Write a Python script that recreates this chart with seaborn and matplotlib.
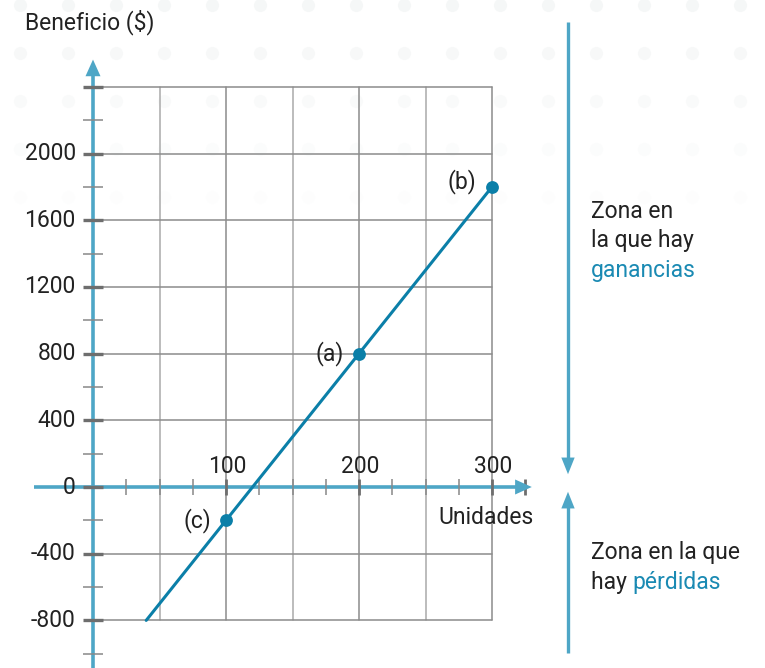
import numpy as np
import pandas as pd
import seaborn as sns
import matplotlib.pyplot as plt

# Datos
puntos_x = [200, 300, 100]
puntos_y = [800, 1800, -200]
puntos_lbl = ['(a)', '(b)', '(c)']
recta_x = [40, 300]
recta_y = [-800, 1800]
yticks_lbl = [2000, 1600, 1200, 800, 400, 0, -400, -800]
xticks_lbl = [100, 200, 300]

df_pts = pd.DataFrame({'Unidades': puntos_x, 'Beneficio': puntos_y, 'lbl': puntos_lbl})
df_line = pd.DataFrame({'Unidades': recta_x, 'Beneficio': recta_y})

sns.set_theme(style="white")
plt.rcParams['font.family'] = ['Roboto', 'DejaVu Sans']

C_AXIS = '#4ea6c6'
C_LINE = '#0b7fa8'
C_GRID = '#8c8c8c'
C_TXT = '#222222'
FS = 16.5

fig = plt.figure(figsize=(7.65, 6.68), dpi=100)
ax = fig.add_axes([0, 0, 1, 1])
# escala: 1.33 px por unidad, 0.16675 px por $
ax.set_xlim(-93 / 1.33, (765 - 93) / 1.33)
ax.set_ylim(-(668 - 487) / 0.16675, 487 / 0.16675)
ax.axis('off')

# fondo de puntos decorativo (muy tenue)
gx, gy = np.meshgrid(np.arange(20, 765, 48), np.arange(5, 260, 48))
alphas = np.clip(1 - gy / 230, 0, 1).ravel()
for px, py, a in zip(gx.ravel(), gy.ravel(), alphas):
    ax.scatter(px / 765, 1 - py / 668, s=90, color='#f5f7f7', alpha=a,
               transform=fig.transFigure, zorder=0, linewidths=0)

# cuadricula
for u in range(50, 301, 50):
    ax.plot([u, u], [-800, 2400], color=C_GRID if u % 100 == 0 else '#aaaaaa', lw=1.1, zorder=1)
for v in range(-800, 2401, 400):
    ax.plot([0, 300], [v, v], color=C_GRID, lw=1.1, zorder=1)

# marcas eje y
for v in range(-1000, 2401, 200):
    major = v % 400 == 0
    ax.plot([-7.5, 7.5], [v, v], color='#6e6e6e' if major else '#888888',
            lw=2.4 if major else 1.1, zorder=3, solid_capstyle='butt')
# marcas eje x
for u in range(25, 326, 25):
    major = u % 100 == 0 or u == 325
    ax.plot([u, u], [-45, 45], color='#6e6e6e' if major else '#888888',
            lw=2.0 if major else 1.1, zorder=3, solid_capstyle='butt')

# ejes con flechas
ax.plot([0, 0], [-1100, 2480], color=C_AXIS, lw=2.6, zorder=2, solid_capstyle='butt')
ax.annotate('', xy=(0, 2580), xytext=(0, 2460),
            arrowprops=dict(arrowstyle='-|>,head_length=1.0,head_width=0.45', color=C_AXIS, lw=0))
ax.plot([-44, 320], [0, 0], color=C_AXIS, lw=2.6, zorder=2, solid_capstyle='butt')
ax.annotate('', xy=(332, 0), xytext=(310, 0),
            arrowprops=dict(arrowstyle='-|>,head_length=1.0,head_width=0.45', color=C_AXIS, lw=0))

# recta y puntos
sns.lineplot(data=df_line, x='Unidades', y='Beneficio', ax=ax, color=C_LINE, lw=2.2, zorder=4)
sns.scatterplot(data=df_pts, x='Unidades', y='Beneficio', ax=ax, color=C_LINE, s=85,
                linewidth=0, zorder=5)
ax.set_xlabel('')
ax.set_ylabel('')
offs = {'(a)': (-11, 0), '(b)': (-12, 30), '(c)': (-11, 0)}
for x, y, l in zip(puntos_x, puntos_y, puntos_lbl):
    dx, dy = offs[l]
    ax.text(x + dx, y + dy, l, ha='right', va='center', fontsize=FS, color=C_TXT)

# etiquetas de ejes
for v in yticks_lbl:
    ax.text(-13, v, str(v), ha='right', va='center', fontsize=FS, color=C_TXT)
for u in xticks_lbl:
    ax.text(u + 1, 120, str(u), ha='center', va='center', fontsize=FS, color=C_TXT)
ax.text(-51, 2790, 'Beneficio ($)', ha='left', va='center', fontsize=FS, color=C_TXT)
ax.text(260, -180, 'Unidades', ha='left', va='center', fontsize=FS, color=C_TXT)

# zonas
ZX = (568 - 93) / 1.33
ax.plot([ZX, ZX], [2790, 140], color=C_AXIS, lw=2.4, solid_capstyle='butt')
ax.annotate('', xy=(ZX, 60), xytext=(ZX, 200),
            arrowprops=dict(arrowstyle='-|>,head_length=1.0,head_width=0.4', color=C_AXIS, lw=0))
ax.plot([ZX, ZX], [-995, -90], color=C_AXIS, lw=2.4, solid_capstyle='butt')
ax.annotate('', xy=(ZX, -12), xytext=(ZX, -150),
            arrowprops=dict(arrowstyle='-|>,head_length=1.0,head_width=0.4', color=C_AXIS, lw=0))

TX = (591 - 93) / 1.33
ax.text(TX, (487 - 211) / 0.16675, 'Zona en', ha='left', va='center', fontsize=FS, color=C_TXT)
ax.text(TX, (487 - 241) / 0.16675, 'la que hay', ha='left', va='center', fontsize=FS, color=C_TXT)
ax.text(TX, (487 - 270) / 0.16675, 'ganancias', ha='left', va='center', fontsize=FS, color='#1a8ab3')
ax.text(TX, (487 - 553) / 0.16675, 'Zona en la que', ha='left', va='center', fontsize=FS, color=C_TXT)
t = ax.text(TX, (487 - 582) / 0.16675, 'hay ', ha='left', va='center', fontsize=FS, color=C_TXT)
ax.annotate('pérdidas', xycoords=t, xy=(1, 0.5), va='center', ha='left', fontsize=FS, color='#1a8ab3')

fig.savefig('out.png', dpi=100)
